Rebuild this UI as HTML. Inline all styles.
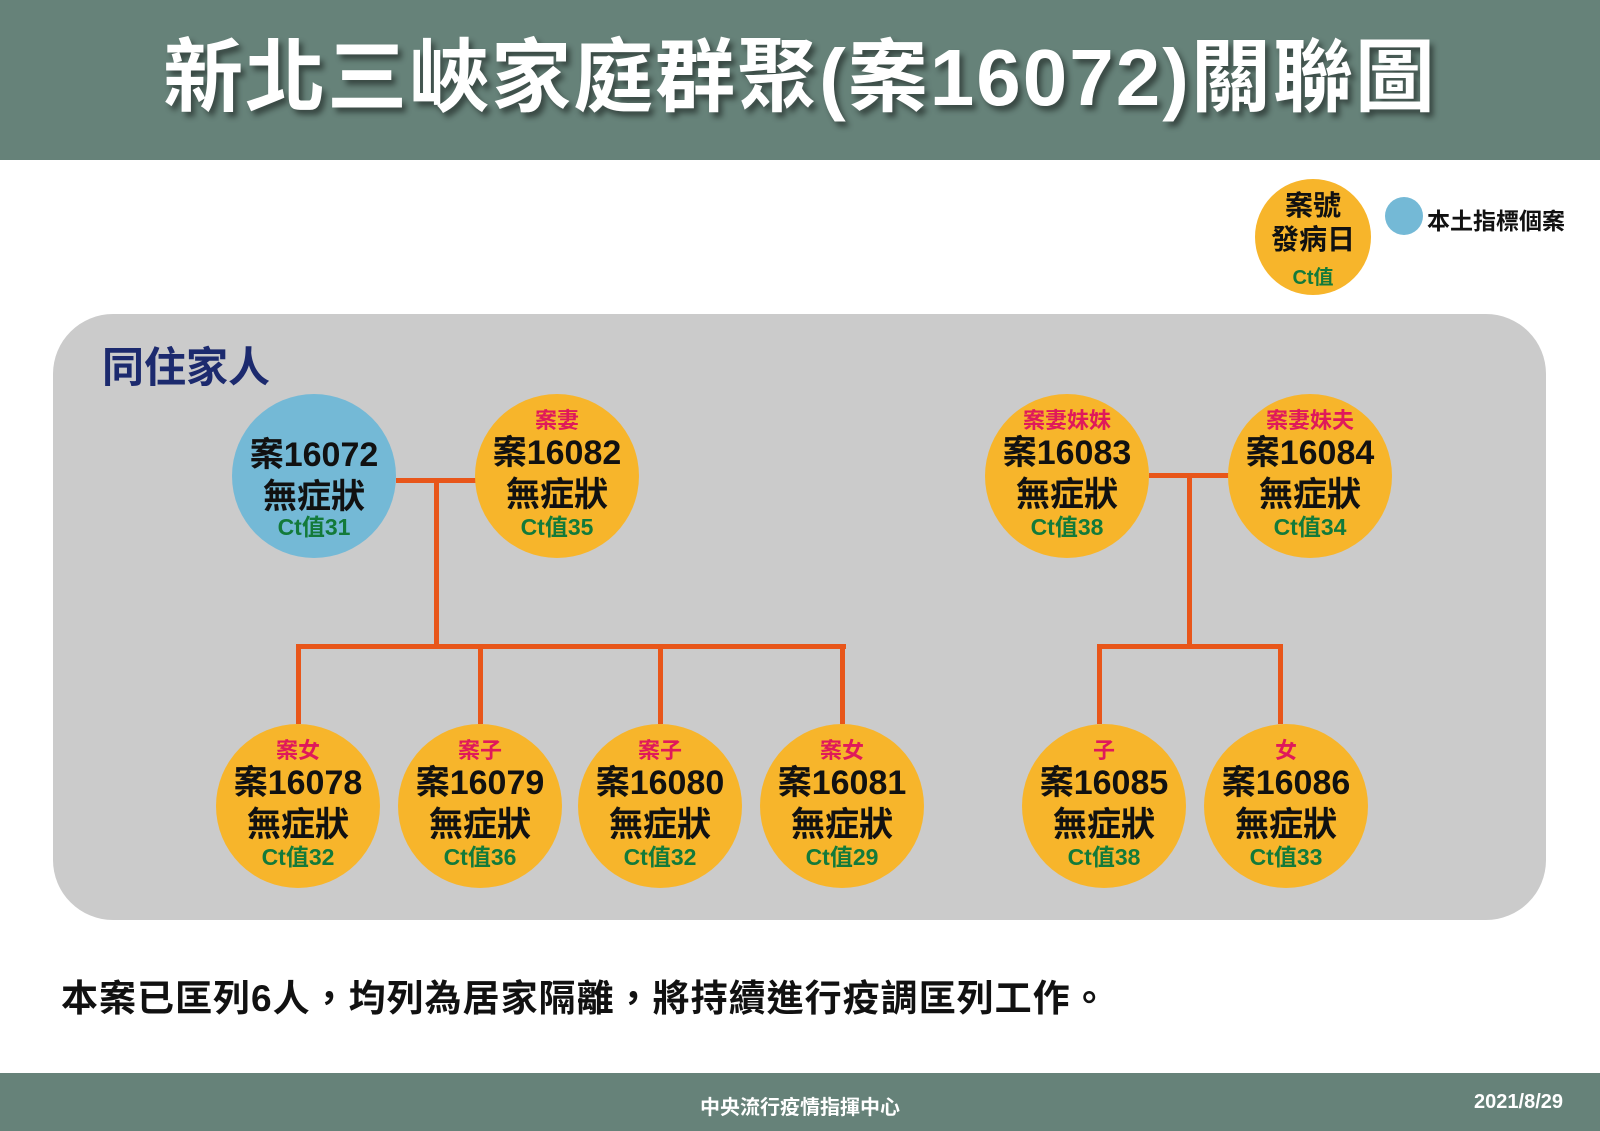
<!DOCTYPE html>
<html><head><meta charset="utf-8"><style>
*{margin:0;padding:0;box-sizing:border-box}
body{width:1600px;height:1131px;background:#fff;position:relative;overflow:hidden;font-family:"Liberation Sans","Noto Sans CJK TC",sans-serif;font-weight:bold}
.hdr{position:absolute;left:0;top:0;width:1600px;height:160px;background:#668279}
.title{position:absolute;left:0;top:28px;width:1600px;text-align:center;color:#fff;font-size:80px;line-height:100px;text-shadow:4px 5px 6px rgba(0,0,0,.45);letter-spacing:2px}
.panel{position:absolute;left:53px;top:314px;width:1493px;height:606px;background:#cbcbcb;border-radius:60px}
.c{position:absolute;width:164px;height:164px;border-radius:50%;background:#f7b52b;text-align:center}
.c.b{background:#74b9d6}
.c .r{position:absolute;left:0;width:100%;top:15px;color:#e0195a;font-size:22px;line-height:24px}
.c .m{position:absolute;left:0;width:100%;top:38px;color:#111;font-size:34px;line-height:42px}
.c .g{position:absolute;left:0;width:100%;top:120px;color:#137a3a;font-size:23px;line-height:26px}
.ln{position:absolute;background:#e8561a}
.ftr{position:absolute;left:0;top:1073px;width:1600px;height:58px;background:#668279;color:#fff;font-size:20px}
</style></head><body>
<div class="hdr"></div>
<div class="title">新北三峽家庭群聚(案16072)關聯圖</div>

<div style="position:absolute;left:1255px;top:179px;width:116px;height:116px;border-radius:50%;background:#f7b52b;text-align:center">
<div style="position:absolute;top:10px;width:100%;font-size:28px;line-height:34px;color:#111">案號<br>發病日</div>
<div style="position:absolute;top:82px;width:100%;font-size:20px;color:#137a3a">Ct值</div></div>
<div style="position:absolute;left:1385px;top:197px;width:38px;height:38px;border-radius:50%;background:#74b9d6"></div>
<div style="position:absolute;left:1427px;top:202px;font-size:23px;color:#111">本土指標個案</div>

<div class="panel"></div>
<div style="position:absolute;left:102px;top:334px;font-size:42px;color:#1c2a6e">同住家人</div>

<div class="ln" style="left:396px;top:478px;width:80px;height:5px"></div>
<div class="ln" style="left:434px;top:480px;width:5px;height:168px"></div>
<div class="ln" style="left:296px;top:644px;width:550px;height:5px"></div>
<div class="ln" style="left:296px;top:646px;width:5px;height:78px"></div>
<div class="ln" style="left:478px;top:646px;width:5px;height:78px"></div>
<div class="ln" style="left:658px;top:646px;width:5px;height:78px"></div>
<div class="ln" style="left:840px;top:646px;width:5px;height:78px"></div>

<div class="ln" style="left:1149px;top:473px;width:80px;height:5px"></div>
<div class="ln" style="left:1187px;top:475px;width:5px;height:173px"></div>
<div class="ln" style="left:1097px;top:644px;width:186px;height:5px"></div>
<div class="ln" style="left:1097px;top:646px;width:5px;height:78px"></div>
<div class="ln" style="left:1278px;top:646px;width:5px;height:78px"></div>

<div class="c b" style="left:232px;top:394px"><div class="m" style="top:40px">案16072<br>無症狀</div><div class="g">Ct值31</div></div>
<div class="c" style="left:475px;top:394px"><div class="r">案妻</div><div class="m">案16082<br>無症狀</div><div class="g">Ct值35</div></div>
<div class="c" style="left:985px;top:394px"><div class="r">案妻妹妹</div><div class="m">案16083<br>無症狀</div><div class="g">Ct值38</div></div>
<div class="c" style="left:1228px;top:394px"><div class="r">案妻妹夫</div><div class="m">案16084<br>無症狀</div><div class="g">Ct值34</div></div>

<div class="c" style="left:216px;top:724px"><div class="r">案女</div><div class="m">案16078<br>無症狀</div><div class="g">Ct值32</div></div>
<div class="c" style="left:398px;top:724px"><div class="r">案子</div><div class="m">案16079<br>無症狀</div><div class="g">Ct值36</div></div>
<div class="c" style="left:578px;top:724px"><div class="r">案子</div><div class="m">案16080<br>無症狀</div><div class="g">Ct值32</div></div>
<div class="c" style="left:760px;top:724px"><div class="r">案女</div><div class="m">案16081<br>無症狀</div><div class="g">Ct值29</div></div>
<div class="c" style="left:1022px;top:724px"><div class="r">子</div><div class="m">案16085<br>無症狀</div><div class="g">Ct值38</div></div>
<div class="c" style="left:1204px;top:724px"><div class="r">女</div><div class="m">案16086<br>無症狀</div><div class="g">Ct值33</div></div>

<div style="position:absolute;left:61px;top:978px;font-size:37px;color:#111;line-height:42px;letter-spacing:1px">本案已匡列6人，均列為居家隔離，將持續進行疫調匡列工作。</div>

<div class="ftr"><div style="position:absolute;left:0;width:1600px;text-align:center;top:18px">中央流行疫情指揮中心</div><div style="position:absolute;right:37px;top:18px">2021/8/29</div></div>
</body></html>
